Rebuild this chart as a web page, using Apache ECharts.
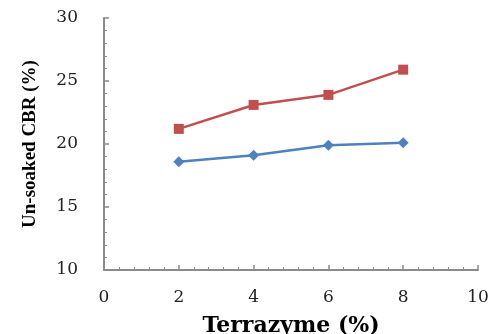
<!DOCTYPE html>
<html><head><meta charset="utf-8">
<script src="https://cdn.jsdelivr.net/npm/echarts@6/dist/echarts.min.js"></script>
<style>html,body{margin:0;padding:0;background:#fff}#c{width:495px;height:334px}</style>
</head><body><div id="c"></div>
<script>
const terrazyme = [2, 4, 6, 8];
const seriesRed = [21.2, 23.1, 23.9, 25.9];
const seriesBlue = [18.6, 19.1, 19.9, 20.1];
const xTitle = 'Terrazyme (%)';
const yTitle = 'Un-soaked CBR (%)';

const chart = echarts.init(document.getElementById('c'));
const axisGray = '#8a8a8a';
chart.setOption({
  animation: false,
  grid: {left: 104, right: 17, top: 18, bottom: 64, containLabel: false, outerBoundsMode: 'none'},
  xAxis: {
    type: 'value', min: 0, max: 10, interval: 2,
    axisLine: {lineStyle: {color: axisGray, width: 2}},
    axisTick: {inside: true, length: 5, lineStyle: {color: axisGray, width: 1.5}},
    minorTick: {show: true, splitNumber: 5, length: 3, lineStyle: {color: axisGray}},
    splitLine: {show: false},
    axisLabel: {margin: 19, fontFamily: 'DejaVu Serif', fontSize: 17, color: '#222'},
    name: xTitle, nameLocation: 'middle', nameGap: 45,
    nameTextStyle: {fontFamily: 'DejaVu Serif', fontWeight: 'bold', fontSize: 22, color: '#000'}
  },
  yAxis: {
    type: 'value', min: 10, max: 30, interval: 5,
    axisLine: {show: true, lineStyle: {color: axisGray, width: 2}},
    axisTick: {show: true, inside: true, length: 5, lineStyle: {color: axisGray, width: 1.5}},
    minorTick: {show: true, splitNumber: 5, length: 3, lineStyle: {color: axisGray}},
    splitLine: {show: false},
    axisLabel: {margin: 26, fontFamily: 'DejaVu Serif', fontSize: 17, color: '#222'},
    name: yTitle, nameLocation: 'middle', nameGap: 64, nameRotate: 90,
    nameTextStyle: {fontFamily: 'Liberation Serif', fontWeight: 'bold', fontSize: 19, color: '#000'}
  },
  series: [
    {
      type: 'line', data: terrazyme.map((x, i) => [x, seriesRed[i]]),
      symbol: 'rect', symbolSize: 10,
      lineStyle: {color: '#C0504D', width: 2.5},
      itemStyle: {color: '#C0504D'}
    },
    {
      type: 'line', data: terrazyme.map((x, i) => [x, seriesBlue[i]]),
      symbol: 'diamond', symbolSize: 11,
      lineStyle: {color: '#4F81BD', width: 2.5},
      itemStyle: {color: '#4F81BD'}
    }
  ]
});
</script></body></html>
